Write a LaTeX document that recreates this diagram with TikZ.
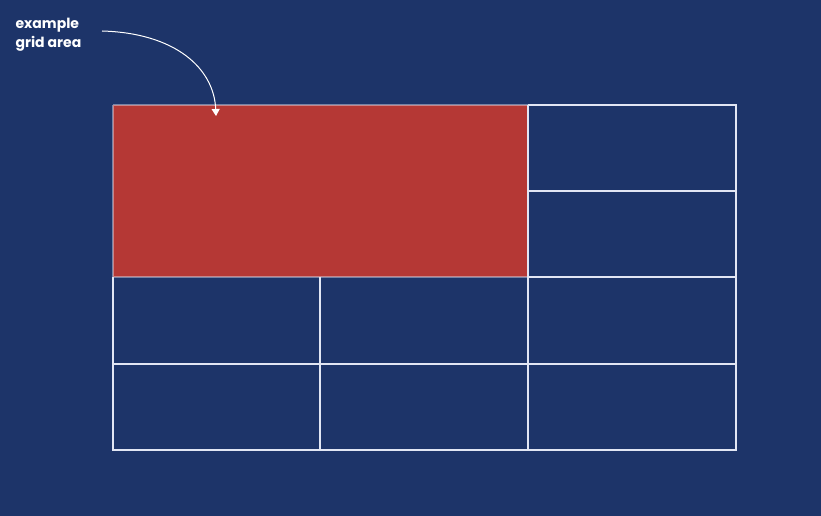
\documentclass[tikz,border=0pt]{standalone}
\usepackage{fontspec}
\setsansfont{Poppins}
\usetikzlibrary{arrows.meta}
\definecolor{navy}{HTML}{1D3469}
\definecolor{area}{HTML}{B53835}
\definecolor{gline}{HTML}{E2E6F4}
\begin{document}
\begin{tikzpicture}[x=1pt,y=-1pt,line width=1.2pt]
\fill[navy](0,0)rectangle(821,516);\useasboundingbox(0,0)rectangle(821,516);
\coordinate(A)at(113,105);\coordinate(B)at(528,105);\coordinate(C)at(736,105);\coordinate(D)at(113,277);\coordinate(E)at(320,277);\coordinate(F)at(528,277);\coordinate(G)at(736,277);\coordinate(H)at(113,450);\coordinate(K)at(736,450);
\fill[area](A)rectangle(F);
\draw[gline,opacity=.45](A)--(B) (A)--(D)--(F);
\draw[gline](B)--(C)--(K)--(H)--(D) (F)--(G) (B)--(528,450) (E)--(320,450) (528,191)--(736,191) (113,364)--(736,364);
\node[anchor=north west,align=left,text=white,inner sep=0pt,font=\sffamily\bfseries\fontsize{14}{18.5}\selectfont](lbl)at(15,18){example\\grid area};
\coordinate(src)at(102,31);\coordinate(tip)at(216,116);
\draw[white,line width=1pt,-{Triangle[width=8pt,length=7pt]}](src)..controls(175,33)and(214,68)..(tip);
\end{tikzpicture}
\end{document}
